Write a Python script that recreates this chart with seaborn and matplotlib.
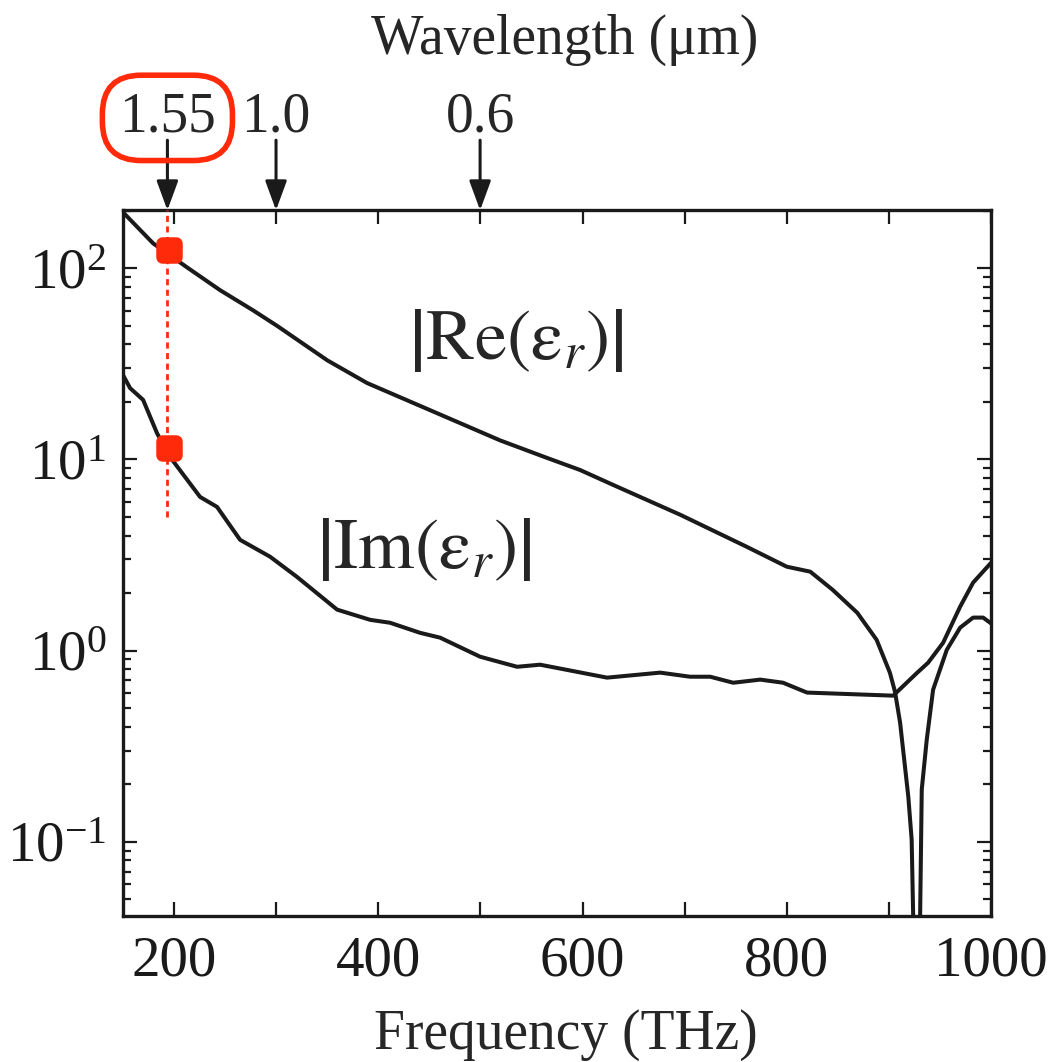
import numpy as np
import pandas as pd
import matplotlib
matplotlib.use('Agg')
import matplotlib.pyplot as plt
from matplotlib.markers import MarkerStyle
from matplotlib.ticker import MultipleLocator, FuncFormatter, LogLocator
import seaborn as sns

# data
re_freq = [150, 179.4, 212.7, 245, 277, 300.8, 350, 389, 480, 519, 565, 597.6, 630,
           696, 761, 800, 823, 845, 869, 888, 901, 906, 911, 919, 922.3, 923.8, 927, 930.6,
           932.2, 937.1, 943.3, 956.7, 969.8, 982.5, 992.3, 1000]
re_abs = [196, 135, 101, 76.8, 60.4, 50, 33, 25.1, 15.5, 12.6, 10.2, 8.81, 7.36,
          5.13, 3.49, 2.75, 2.59, 2.08, 1.58, 1.14, 0.767, 0.61, 0.42, 0.173, 0.103, 0.041,
          0.005, 0.041, 0.188, 0.343, 0.625, 1.01, 1.32, 1.49, 1.49, 1.39]

im_freq = [150, 156.9, 169.6, 183.3, 196, 225.4, 242, 264.6, 294, 320.4, 359.6, 392, 411.5,
           440.9, 460.5, 499.7, 509.5, 535.9, 558.4, 624, 676, 705.3, 725, 747.5, 774, 796.4,
           813, 819.9, 904.2, 927.7, 938.4, 953.1, 969.8, 982.5, 1000]
im_abs = [27.6, 23.6, 20.5, 13.7, 10.3, 6.37, 5.65, 3.80, 3.10, 2.43, 1.64, 1.45, 1.40,
          1.24, 1.17, 0.93, 0.90, 0.824, 0.845, 0.723, 0.768, 0.731, 0.731, 0.680, 0.706, 0.680,
          0.625, 0.604, 0.582, 0.767, 0.865, 1.10, 1.70, 2.27, 2.88]

wavelengths = [1.55, 1.0, 0.6]
wl_labels = ['1.55', '1.0', '0.6']
marker_vals = [124, 11.5]
c_um_thz = 299.79

red = '#ff2a0a'
ink = '#1a1a1a'

sns.set_style('ticks')
plt.rcParams['font.family'] = ['Liberation Serif', 'DejaVu Serif']
plt.rcParams['mathtext.fontset'] = 'stix'

df = pd.concat([
    pd.DataFrame({'freq': re_freq, 'val': re_abs, 'part': 'Re'}),
    pd.DataFrame({'freq': im_freq, 'val': im_abs, 'part': 'Im'}),
])

fig = plt.figure(figsize=(10.52, 10.62), dpi=100)
ax = fig.add_axes([0.117, 0.1375, 0.825, 0.6645])

sns.lineplot(data=df, x='freq', y='val', units='part', estimator=None, color=ink,
             linewidth=2.9, ax=ax, sort=False)
ax.set_yscale('log')
ax.set_xlim(150, 1000)
ax.set_ylim(0.041, 201)

# 1.55 um marker line and points
f155 = c_um_thz / wavelengths[0]
ax.plot([f155, f155], [5.0, 201], ls=(0, (2.2, 1.6)), color=red, lw=2.0, zorder=3)
ax.plot([f155 + 1.5] * 2, marker_vals, ls='none', marker=MarkerStyle('s', joinstyle='round'),
        ms=10, mfc=red, mec=red, mew=9, zorder=4)

# curve labels
ax.text(535, 42, r'$\left|\mathrm{Re}(\mathrm{\varepsilon}_r)\right|$', fontsize=52,
        ha='center', va='center')
ax.text(445, 3.37, r'$\left|\mathrm{Im}(\mathrm{\varepsilon}_r)\right|$', fontsize=52,
        ha='center', va='center')

# ticks
ax.xaxis.set_major_locator(MultipleLocator(100))
ax.xaxis.set_major_formatter(FuncFormatter(lambda v, p: f'{v:.0f}' if v % 200 == 0 else ''))
ax.yaxis.set_major_locator(LogLocator(base=10, numticks=10))
ax.yaxis.set_minor_locator(LogLocator(base=10, subs=np.arange(2, 10), numticks=20))
ax.tick_params(which='both', direction='in', top=True, right=True, width=1.6, colors=ink)
ax.tick_params(which='major', length=10, labelsize=41)
ax.tick_params(which='minor', length=6)
ax.tick_params(axis='x', pad=14)
ax.tick_params(axis='y', pad=12)
for s in ax.spines.values():
    s.set_linewidth(2.4)
    s.set_color(ink)
ax.set_xlabel('')
ax.set_ylabel('')

fig.text(0.538, 0.025, 'Frequency (THz)', fontsize=40, ha='center', va='center')
fig.text(0.537, 0.962, 'Wavelength (\u03bcm)', fontsize=40, ha='center', va='center')

# wavelength arrows on top
for wl, lab in zip(wavelengths, wl_labels):
    f = c_um_thz / wl
    ax.annotate('', xy=(f, 1.0), xycoords=('data', 'axes fraction'),
                xytext=(f, 0.868), textcoords=('data', 'figure fraction'),
                arrowprops=dict(arrowstyle='-|>,head_length=0.6,head_width=0.22',
                                mutation_scale=30, color=ink, lw=2.2,
                                shrinkA=0, shrinkB=0))
    kw = {}
    if lab == '1.55':
        kw['bbox'] = dict(boxstyle='round,pad=0.3,rounding_size=0.7', fc='none', ec=red, lw=4)
    ax.annotate(lab, xy=(f, 0.889), xycoords=('data', 'figure fraction'),
                fontsize=40, ha='center', va='center', **kw)

fig.savefig('out.png', dpi=100)
